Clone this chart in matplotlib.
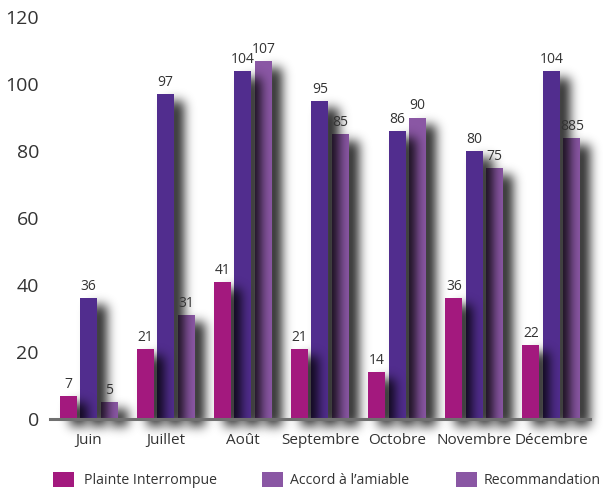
import matplotlib
matplotlib.use("Agg")
import matplotlib.pyplot as plt
from matplotlib.patches import Rectangle
import numpy as np

months = ["Juin", "Juillet", "Août", "Septembre", "Octobre", "Novembre", "Décembre"]
series_names = ["Plainte Interrompue", "Accord à l’amiable", "Recommandation"]
plainte = [7, 21, 41, 21, 14, 36, 22]
accord = [36, 97, 104, 95, 86, 80, 104]
recommandation = [5, 31, 107, 85, 90, 75, 84]
plainte_labels = ["7", "21", "41", "21", "14", "36", "22"]
accord_labels = ["36", "97", "104", "95", "86", "80", "104"]
recommandation_labels = ["5", "31", "107", "85", "90", "75", "885"]
yticks = [0, 20, 40, 60, 80, 100, 120]

colors = ["#A3197E", "#512D8E", "#8A57A4"]
legend_colors = ["#A3197E", "#8A57A4", "#8A57A4"]
text_color = "#333333"

plt.rcParams['font.family'] = ['Open Sans', 'DejaVu Sans']

W, H, DPI = 6.03, 4.91, 100
fig = plt.figure(figsize=(W, H), dpi=DPI)
left, right, bottom, top = 50 / 603, 590 / 603, (491 - 419) / 491, (491 - 17) / 491
ax = fig.add_axes([left, bottom, right - left, top - bottom])
XLIM = (-0.5, len(months) - 0.5)
YLIM = (0, 120)
ax.set_xlim(*XLIM)
ax.set_ylim(*YLIM)

ax_w_px = (right - left) * W * DPI
px_x = (len(months)) / ax_w_px
bar_w = 17 * px_x
step = 20.5 * px_x
x = np.arange(len(months))
all_vals = [plainte, accord, recommandation]
all_labels = [plainte_labels, accord_labels, recommandation_labels]

# ---- blurred drop shadows (one image per series) ----
sh_dx, sh_dy, sigma, strength = 10, 7, 5.5, 0.85
to_disp = ax.transData.transform
gx0, gy0 = to_disp((XLIM[0], YLIM[0]))
gx1, gy1 = to_disp((XLIM[1], YLIM[1]))
gx0, gy0 = np.floor(gx0) - 5, np.floor(gy0) - 40
gx1, gy1 = np.ceil(gx1) + 35, np.ceil(gy1) + 10
nx, ny = int(gx1 - gx0), int(gy1 - gy0)
ext0 = ax.transData.inverted().transform((gx0, gy0))
ext1 = ax.transData.inverted().transform((gx1, gy1))

r = int(3 * sigma)
k = np.exp(-0.5 * (np.arange(-r, r + 1) / sigma) ** 2)
k /= k.sum()

def blur(a):
    a = np.apply_along_axis(lambda m: np.convolve(m, k, mode="same"), 0, a)
    a = np.apply_along_axis(lambda m: np.convolve(m, k, mode="same"), 1, a)
    return a

for i, (vals, labs) in enumerate(zip(all_vals, all_labels)):
    offs = (i - 1) * step
    zbar = 10 - 2 * i
    zsh = 9 - 2 * i
    mask = np.zeros((ny, nx))
    for xi, v in zip(x, vals):
        (dx0, dy0) = to_disp((xi + offs - bar_w / 2, 0))
        (dx1, dy1) = to_disp((xi + offs + bar_w / 2, v))
        c0 = int(round(dx0 - gx0 + sh_dx)); c1 = int(round(dx1 - gx0 + sh_dx))
        r0 = int(round(dy0 - gy0 - sh_dy)); r1 = int(round(dy1 - gy0 - sh_dy))
        mask[max(r0, 0):r1, max(c0, 0):c1] = 1.0
    mask = blur(mask)
    img = np.zeros((ny, nx, 4))
    img[..., 3] = np.clip(mask * strength, 0, 1)
    ax.imshow(img, origin="lower", extent=[ext0[0], ext1[0], ext0[1], ext1[1]],
              aspect="auto", interpolation="bilinear", zorder=zsh, clip_on=False)
    ax.bar(x + offs, vals, width=bar_w, color=colors[i], zorder=zbar, lw=0)
    for xi, v, lab in zip(x, vals, labs):
        ax.text(xi + offs, v + 1.2, lab, ha="center", va="bottom",
                fontsize=10, color=text_color, zorder=20)

ax.set_xlim(*XLIM)
ax.set_ylim(*YLIM)

# axis line
ax.axhline(0, color="#707070", lw=2.2, zorder=15, clip_on=False)
for sp in ["left", "right", "top", "bottom"]:
    ax.spines[sp].set_visible(False)
ax.set_yticks(yticks)
ax.set_yticklabels([str(t) for t in yticks], fontsize=14, color=text_color)
ax.set_xticks(x)
ax.set_xticklabels(months, fontsize=11, color=text_color)
ax.tick_params(axis="both", length=0)
ax.tick_params(axis="y", pad=8)
ax.tick_params(axis="x", pad=10)

# legend (manual placement, pixels from top-left)
sw_x = [53, 262, 456]
tx_x = [84, 290, 484]
for c, name, sx_, tx_ in zip(legend_colors, series_names, sw_x, tx_x):
    fig.add_artist(Rectangle((sx_ / 603, (491 - 487) / 491), 21 / 603, 15 / 491,
                             transform=fig.transFigure, facecolor=c, lw=0))
    fig.text(tx_ / 603, (491 - 480) / 491, name, ha="left", va="center",
             fontsize=10.2, color=text_color)

fig.savefig("out.png", dpi=DPI)
